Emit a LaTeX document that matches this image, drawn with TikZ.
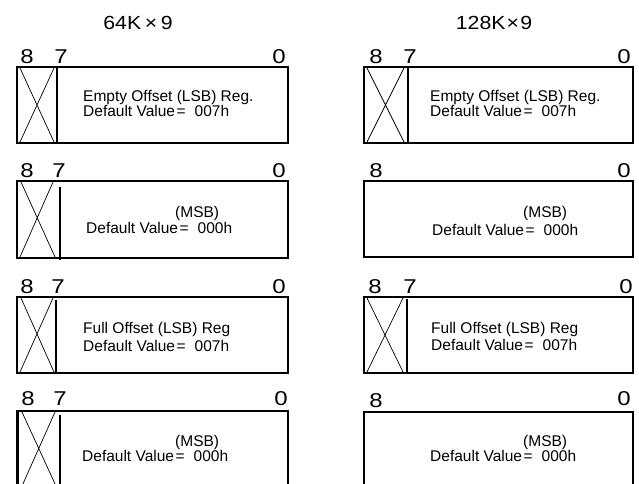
\documentclass[tikz,border=0pt]{standalone}
\usepackage{fontspec}
\setmainfont{Liberation Sans}
\newcommand\myDefVal[1]{Default Value\kern1.5pt=\kern9pt #1}
\begin{document}
\begin{tikzpicture}[x=1pt,y=-1pt,
  frame/.style={line width=2.8pt, line join=miter},
  divider/.style={line width=2.8pt},
  cross/.style={line width=0.7pt},
  bit/.style={inner sep=0pt, anchor=base, font=\fontsize{20}{20}\selectfont},
  ttl/.style={inner sep=0pt, anchor=base, font=\fontsize{19}{19}\selectfont},
  lbl/.style={inner sep=0pt, anchor=base west, font=\fontsize{15.5}{15.5}\selectfont}]
\useasboundingbox (0,0) rectangle (639,483);
\clip (0,0) rectangle (639,483);

% titles
\node[ttl] (t64) at (138,29) {\scalebox{1.12}[1]{64K\,×\,9}};
\node[ttl] (t128) at (494,29) {\scalebox{1.12}[1]{128K\kern1pt×\kern1pt9}};

% ---------- left column ----------
% row 1
\draw[frame] (17,67) rectangle (288,143);
\draw[divider] (57,67) -- (57,143);
\draw[cross] (20,68) -- (54,142) (54,68) -- (20,142);
\node[bit] (l1b8) at (27,63) {\scalebox{1.2}[1]{8}};
\node[bit] (l1b7) at (61,63) {\scalebox{1.2}[1]{7}};
\node[bit] (l1b0) at (279,63) {\scalebox{1.2}[1]{0}};
\node[lbl] (l1a) at (83,101) {Empty Offset (LSB) Reg.};
\node[lbl] (l1b) at (83,116) {\myDefVal{007h}};

% row 2
\draw[frame] (17,181) rectangle (288,258);
\draw[divider] (60,187) -- (60,260);
\draw[cross] (21,182) -- (55,257) (53,182) -- (20,257);
\node[bit] (l2b8) at (27,177) {\scalebox{1.2}[1]{8}};
\node[bit] (l2b7) at (59,177) {\scalebox{1.2}[1]{7}};
\node[bit] (l2b0) at (279,177) {\scalebox{1.2}[1]{0}};
\node[lbl] (l2a) at (175,217) {(MSB)};
\node[lbl] (l2b) at (86,233) {\myDefVal{000h}};

% row 3
\draw[frame] (17,297) rectangle (288,373);
\draw[divider] (56,300) -- (56,373);
\draw[cross] (21,298) -- (54,372) (53,298) -- (20,372);
\node[bit] (l3b8) at (27,293) {\scalebox{1.2}[1]{8}};
\node[bit] (l3b7) at (58,293) {\scalebox{1.2}[1]{7}};
\node[bit] (l3b0) at (279,293) {\scalebox{1.2}[1]{0}};
\node[lbl] (l3a) at (83,333) {Full Offset (LSB) Reg};
\node[lbl] (l3b) at (83,351) {\myDefVal{007h}};

% row 4
\draw[frame] (17.5,490) -- (17.5,411) -- (288,411) -- (288,490);
\draw[divider] (60,415) -- (60,490);
\draw[cross] (22,412) -- (56,486) (55,412) -- (22,486);
\node[bit] (l4b8) at (28,405) {\scalebox{1.2}[1]{8}};
\node[bit] (l4b7) at (60,405) {\scalebox{1.2}[1]{7}};
\node[bit] (l4b0) at (281,405) {\scalebox{1.2}[1]{0}};
\node[lbl] (l4a) at (175,446) {(MSB)};
\node[lbl] (l4b) at (82,461) {\myDefVal{000h}};

% ---------- right column ----------
% row 1
\draw[frame] (364,67) rectangle (633,143);
\draw[divider] (408,67) -- (408,143);
\draw[cross] (367,68) -- (404,142) (404,68) -- (367,142);
\node[bit] (r1b8) at (376,63) {\scalebox{1.2}[1]{8}};
\node[bit] (r1b7) at (410,63) {\scalebox{1.2}[1]{7}};
\node[bit] (r1b0) at (624,63) {\scalebox{1.2}[1]{0}};
\node[lbl] (r1a) at (430,101) {Empty Offset (LSB) Reg.};
\node[lbl] (r1b) at (430,116) {\myDefVal{007h}};

% row 2
\draw[frame] (364,181) rectangle (633,257);
\node[bit] (r2b8) at (376,177) {\scalebox{1.2}[1]{8}};
\node[bit] (r2b0) at (624,177) {\scalebox{1.2}[1]{0}};
\node[lbl] (r2a) at (523,217) {(MSB)};
\node[lbl] (r2b) at (432,235) {\myDefVal{000h}};

% row 3
\draw[frame] (364,297) rectangle (633,373);
\draw[divider] (407,299) -- (407,373);
\draw[cross] (367,298) -- (403,372) (403,298) -- (367,372);
\node[bit] (r3b8) at (375,293) {\scalebox{1.2}[1]{8}};
\node[bit] (r3b7) at (410,293) {\scalebox{1.2}[1]{7}};
\node[bit] (r3b0) at (626,293) {\scalebox{1.2}[1]{0}};
\node[lbl] (r3a) at (431,333) {Full Offset (LSB) Reg};
\node[lbl] (r3b) at (431,350) {\myDefVal{007h}};

% row 4
\draw[frame] (364,490) -- (364,412) -- (633,412) -- (633,490);
\node[bit] (r4b8) at (376,407) {\scalebox{1.2}[1]{8}};
\node[bit] (r4b0) at (624,405) {\scalebox{1.2}[1]{0}};
\node[lbl] (r4a) at (523,446) {(MSB)};
\node[lbl] (r4b) at (430,461) {\myDefVal{000h}};
\end{tikzpicture}
\end{document}
